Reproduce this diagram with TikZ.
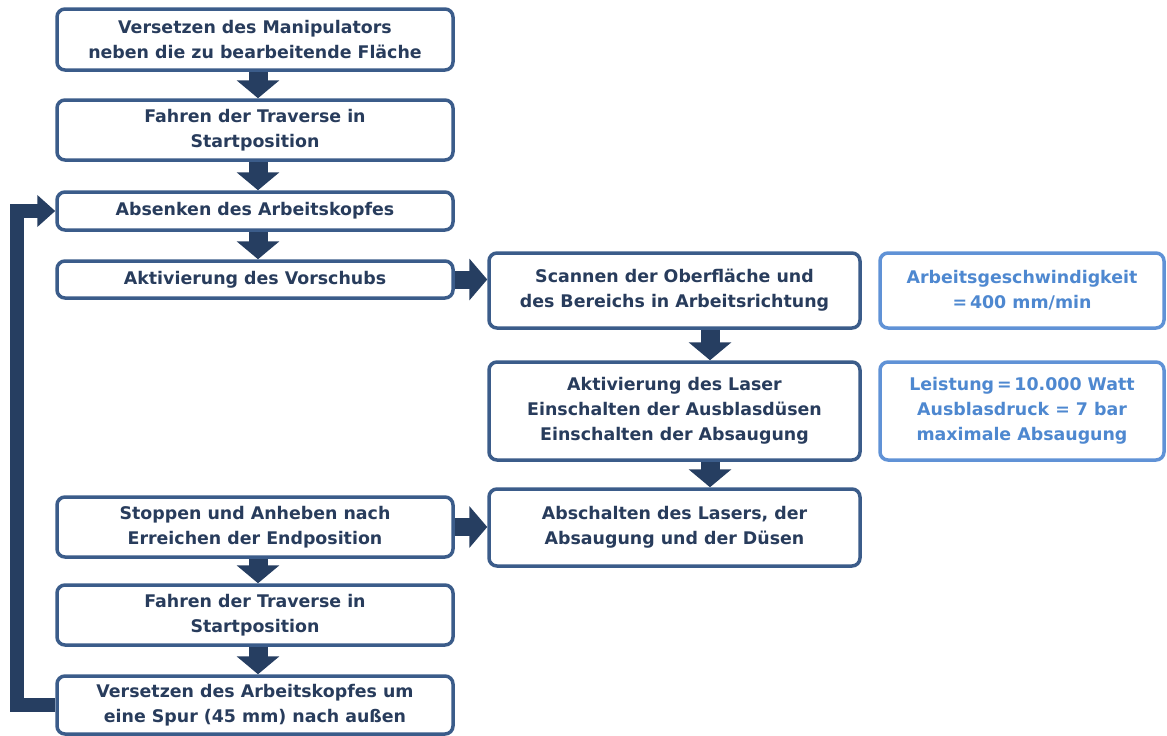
\documentclass[tikz,border=0pt]{standalone}
\usepackage{fontspec}
\setmainfont{DejaVu Sans}
\usepackage{tikz}
\usetikzlibrary{arrows.meta,calc}
\definecolor{boxc}{RGB}{59,92,138}
\definecolor{txtc}{RGB}{40,60,92}
\definecolor{arrowc}{RGB}{38,62,97}
\definecolor{infoc}{RGB}{96,146,214}
\definecolor{infotxt}{RGB}{78,136,208}
\def\LWidth{396}
\def\RWidth{371}
\def\IWidth{284}

\begin{document}
\begin{tikzpicture}[x=1pt,y=-1pt,
	stepbox/.style={draw=boxc,line width=3.5pt,rounded corners=8pt,fill=white,
		text=txtc,align=center,inner sep=0pt,
		font=\fontsize{17.4}{25}\selectfont\bfseries},
	infobox/.style={stepbox,draw=infoc,text=infotxt},
	flow/.style={draw=arrowc,line width=19pt,-{Triangle[width=42pt,length=18pt]}},
	side/.style={draw=arrowc,line width=18pt,-{Triangle[width=41pt,length=18pt]}},
	back/.style={draw=arrowc,line width=14pt,-{Triangle[width=31pt,length=18pt]}}]
	\useasboundingbox (0,0) rectangle (1167,736);
	% linke Spalte
	\node[stepbox,minimum width=\LWidth,minimum height=61] (b1) at (255,39.5)
		{Versetzen des Manipulators\\neben die zu bearbeitende Fläche};
	\node[stepbox,minimum width=\LWidth,minimum height=60] (b2) at (255,130)
		{Fahren der Traverse in\\Startposition};
	\node[stepbox,minimum width=\LWidth,minimum height=38] (b3) at (255,211)
		{Absenken des Arbeitskopfes};
	\node[stepbox,minimum width=\LWidth,minimum height=37] (b4) at (255,279.5)
		{Aktivierung des Vorschubs};
	\node[stepbox,minimum width=\LWidth,minimum height=60] (b5) at (255,527)
		{Stoppen und Anheben nach\\Erreichen der Endposition};
	\node[stepbox,minimum width=\LWidth,minimum height=60] (b6) at (255,615)
		{Fahren der Traverse in\\Startposition};
	\node[stepbox,minimum width=\LWidth,minimum height=58] (b7) at (255,705)
		{Versetzen des Arbeitskopfes um\\eine Spur (45 mm) nach außen};
	% rechte Spalte
	\node[stepbox,minimum width=\RWidth,minimum height=75] (r1) at (674.5,290.5)
		{Scannen der Oberfläche und\\des Bereichs in Arbeitsrichtung};
	\node[stepbox,minimum width=\RWidth,minimum height=98] (r2) at (674.5,411)
		{Aktivierung des Laser\\Einschalten der Ausblasdüsen\\Einschalten der Absaugung};
	\node[stepbox,minimum width=\RWidth,minimum height=77] (r3) at (674.5,527.5)
		{Abschalten des Lasers, der\\Absaugung und der Düsen};
	% Parameter
	\node[infobox,minimum width=\IWidth,minimum height=75] (i1) at (1022,290.5)
		{Arbeitsgeschwindigkeit\\=\,400 mm/min};
	\node[infobox,minimum width=\IWidth,minimum height=98] (i2) at (1022,411)
		{Leistung\,=\,10.000 Watt\\Ausblasdruck = 7 bar\\maximale Absaugung};
	% 
	\coordinate (lx) at (258,0);
	\coordinate (rx) at (710,0);
	\draw[flow] (b1.south -| lx) -- (b2.north -| lx);
	\draw[flow] (b2.south -| lx) -- (b3.north -| lx);
	\draw[flow] (b3.south -| lx) -- (b4.north -| lx);
	\draw[flow] (b5.south -| lx) -- (b6.north -| lx);
	\draw[flow] (b6.south -| lx) -- (b7.north -| lx);
	\draw[flow] (r1.south -| rx) -- (r2.north -| rx);
	\draw[flow] (r2.south -| rx) -- (r3.north -| rx);
	\draw[side] (b4.east) -- (b4.east -| r1.west);
	\draw[side] (b5.east) -- (b5.east -| r3.west);
	\draw[back] (b7.west) -- ++(-38,0) |- (b3.west);
\end{tikzpicture}
\end{document}
